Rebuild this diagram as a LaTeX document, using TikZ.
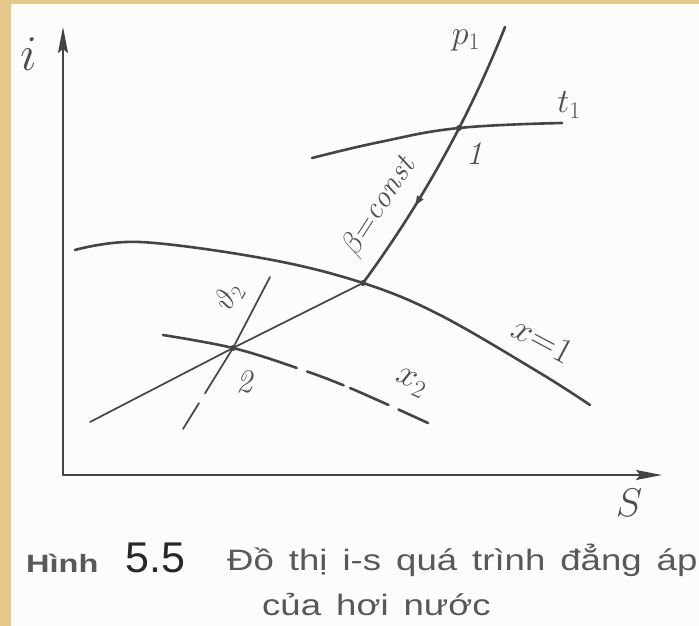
\RequirePackage{fix-cm}
\documentclass[tikz,border=0pt]{standalone}
\usepackage{fontspec}
\usepackage{tikz}
\usetikzlibrary{calc, arrows.meta, decorations.markings}

\newfontfamily\capfont{Liberation Sans}[FakeStretch=1.24]
\newfontfamily\hinhfont{Liberation Sans}[FakeStretch=1.3]

\definecolor{inkgray}{RGB}{68,68,68}
\definecolor{labelgray}{RGB}{78,78,78}
\definecolor{capgray}{RGB}{88,88,88}
\definecolor{numgray}{RGB}{40,40,40}
\definecolor{paper}{RGB}{252,252,250}
\definecolor{frametan}{RGB}{228,200,138}

\begin{document}
\begin{tikzpicture}[x=1pt, y=-1pt,
    ink/.style={draw=inkgray, line cap=round},
    thickline/.style={ink, line width=2.6pt},
    thinline/.style={ink, line width=1.7pt},
    axis/.style={ink, line width=1.6pt, -{Stealth[length=26pt, width=10pt, inset=4pt]}},
    spot/.style={circle, fill=inkgray, inner sep=0pt, minimum size=6pt},
    lbl/.style={text=labelgray, inner sep=0pt},
    caption/.style={text=capgray, inner sep=0pt, anchor=base west}
]
    % paper and scan edge
    \useasboundingbox (0,0) rectangle (699,626);
    \fill[paper] (0,0) rectangle (699,626);
    \fill[frametan] (0,0) rectangle (11,626);
    \fill[frametan] (0,0) rectangle (699,4);

    \coordinate (O) at (63,475);
    \coordinate (iTip) at (63,27);
    \coordinate (sTip) at (662,475);
    \coordinate (P1) at (459,128);
    \coordinate (P2) at (233,348);
    \coordinate (K) at (363,283);
    \coordinate (wetEnd) at (90,422);
    \coordinate (vTop) at (270,277);
    \coordinate (vEnd) at (183,429);

    % axes
    \draw[axis] (O) -- (iTip);
    \draw[axis] (O) -- (sTip);

    % saturation line x = 1
    \draw[thickline] plot[smooth, tension=0.6] coordinates
        {(75,250) (140,242) (267,259) (K) (440,315) (540,373) (590,405)};

    % isobar p1
    \draw[thickline, postaction={decorate}, decoration={markings,
        mark=at position 0.69 with {\arrow{Latex[length=12pt, width=8pt]}}}]
        (505,27) .. controls (469,118) and (421,204) .. (K);
    \draw[thinline] (wetEnd) -- (P2) -- (K);

    % isotherm t1
    \draw[thickline] plot[smooth, tension=0.7] coordinates
        {(312,158) (380,142) (P1) (562,123)};

    % isochore v2
    \draw[thinline] (vTop) -- (P2) -- ($(P2)!0.56!(vEnd)$);
    \draw[thinline] ($(P2)!0.68!(vEnd)$) -- (vEnd);

    % dryness line x2
    \draw[thickline, dash pattern=on 138pt off 11pt on 39pt off 7pt on 42pt off 11pt on 40pt]
        plot[smooth, tension=0.6] coordinates
        {(163,335) (P2) (297,368) (350,388) (428,423)};

    \node[spot] (pt1) at (P1) {};
    \node[spot] (pt2) at (P2) {};
    \node[spot] (ptK) at (K) {};

    % labels
    \node[lbl, font=\fontsize{50}{50}\selectfont] (ilbl) at (29,54) {$i$};
    \node[lbl, font=\fontsize{40}{40}\selectfont] (slbl) at (629,503) {$S$};
    \node[lbl, font=\fontsize{34}{34}\selectfont] (plbl) at (466,40) {$p_1$};
    \node[lbl, font=\fontsize{34}{34}\selectfont] (tlbl) at (569,105) {$t_1$};
    \node[lbl, font=\fontsize{33}{33}\selectfont\itshape] (onelbl) at (474,154) {1};
    \node[lbl, font=\fontsize{33}{33}\selectfont\itshape] (twolbl) at (244,382) {2};
    \node[lbl, font=\fontsize{31}{31}\selectfont, rotate=57] (blbl) at (379,207) {$\beta{=}\mathit{const}$};
    \node[lbl, font=\fontsize{36}{36}\selectfont, rotate=-28] (xlbl) at (543,340) {$x{=}1$};
    \node[lbl, font=\fontsize{36}{36}\selectfont, rotate=-25] (x2lbl) at (411,383) {$x_2$};
    \node[lbl, font=\fontsize{30}{30}\selectfont, rotate=60] (vlbl) at (229,297) {$\vartheta_2$};

    % caption
    \node[caption, font=\hinhfont\bfseries\fontsize{25}{25}\selectfont] (hinh) at (26,572) {Hình};
    \node[caption, text=numgray, font=\capfont\addfontfeature{FakeStretch=1}\fontsize{43}{43}\selectfont] (fignum) at (125,572) {5.5};
    \node[caption, font=\capfont\fontsize{29.5}{29.5}\selectfont] (capA) at (227,570)
        {\spaceskip=15pt Đồ thị i-s quá trình đẳng áp};
    \node[caption, font=\capfont\fontsize{29.5}{29.5}\selectfont] (capB) at (262,615)
        {\spaceskip=15pt của hơi nước};
\end{tikzpicture}
\end{document}
